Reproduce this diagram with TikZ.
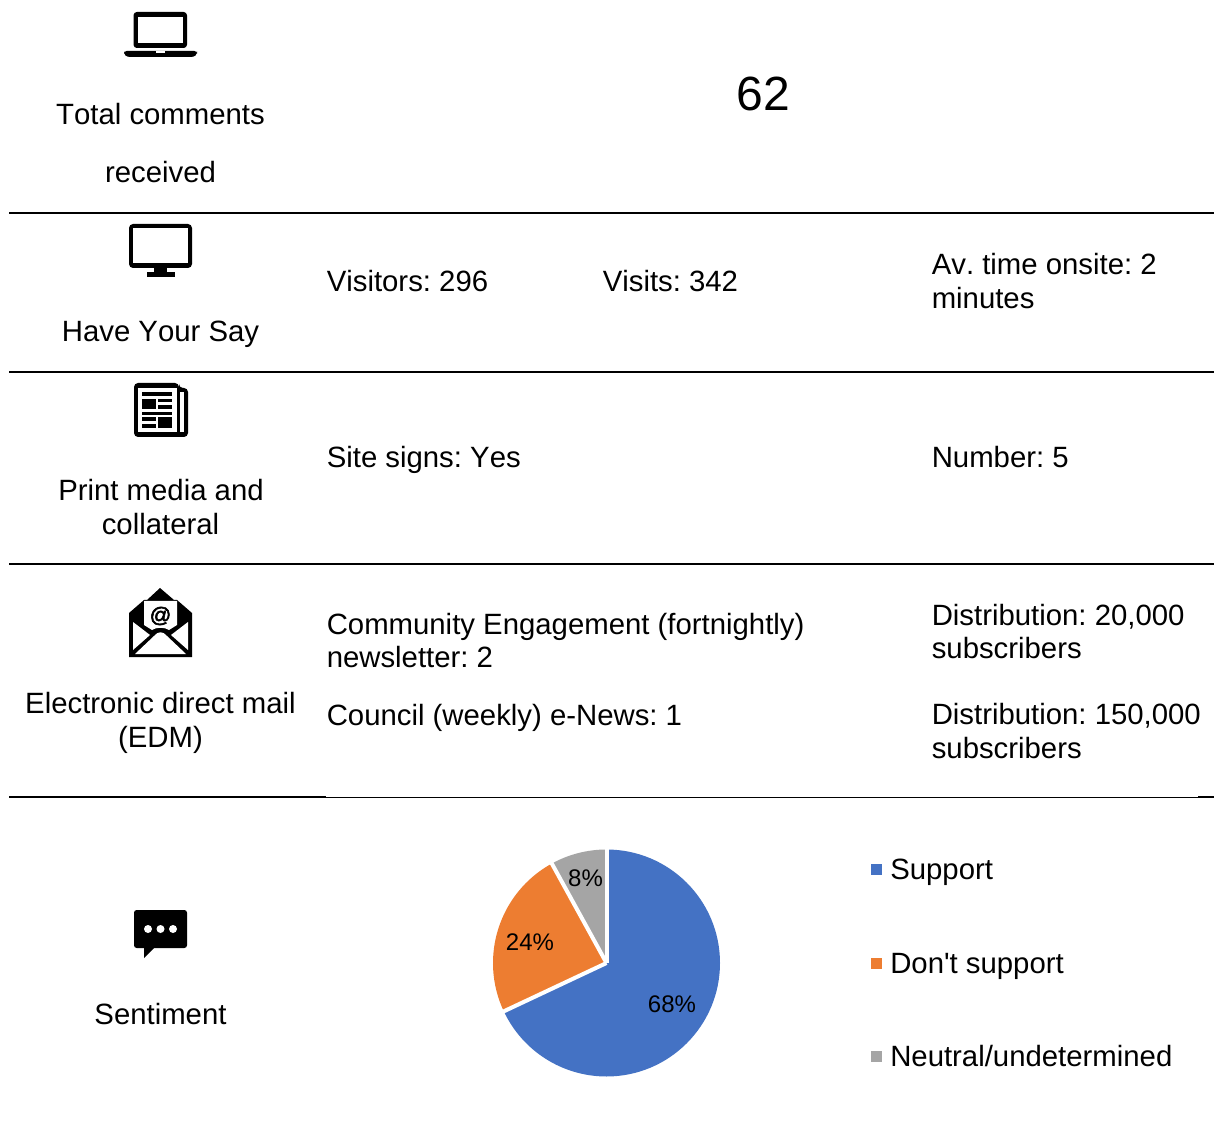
\documentclass[tikz,border=0pt]{standalone}
\usepackage{fontspec}
\setmainfont{Liberation Sans}[Ligatures=TeXOff,Kerning=Off]
\newfontfamily\atfont{Liberation Sans}[FakeBold=2.5]
\frenchspacing
\definecolor{pieblue}{HTML}{4472C4}
\definecolor{pieorange}{HTML}{ED7D31}
\definecolor{piegray}{HTML}{A5A5A5}
\tikzset{
  body/.style={inner sep=0pt,anchor=base west,font=\fontsize{22}{25}\selectfont},
  mid/.style={inner sep=0pt,anchor=base,font=\fontsize{22}{25}\selectfont},
  big/.style={inner sep=0pt,anchor=base,font=\fontsize{36}{40}\selectfont},
  pct/.style={inner sep=0pt,anchor=center,font=\fontsize{18}{20}\selectfont},
  rulethick/.style={line width=1.5pt,black},
  rulethin/.style={line width=0.75pt,black},
  slicegap/.style={draw=white,line width=3pt,line cap=butt}
}
\begin{document}
\begin{tikzpicture}[x=0.75pt,y=-0.75pt]
\useasboundingbox (0,0) rectangle (1214,1144);
\fill[white] (0,0) rectangle (1214,1144);
% rules
\draw[rulethick] (9,213) -- (1214,213);
\draw[rulethick] (9,372) -- (1214,372);
\draw[rulethick] (9,564) -- (1214,564);
\draw[rulethick] (9,797) -- (326,797);
\draw[rulethin] (326,797) -- (1198,797);
\draw[rulethick] (1198,797) -- (1214,797);
% laptop
\fill[rounded corners=2.5] (133.5,12) rectangle (187,48);
\fill[white] (138,17) rectangle (183,43);
\fill[rounded corners=2] (124,51) -- (197,51) -- (197,54) -- (194,57) -- (127,57) -- (124,54) -- cycle;
\fill[white] (156,51) rectangle (165,53);
% monitor
\fill[rounded corners=3] (129,224) rectangle (192,268);
\fill[white] (133,228) rectangle (188,263);
\fill (154,268) rectangle (167,272);
\fill (147,272) rectangle (175,277);
% newspaper
\fill[rounded corners=3] (134,383) -- (179,383) -- (179,388) -- (188,388) -- (188,437) -- (134,437) -- cycle;
\fill[white] (138,388) rectangle (177,432);
\fill[white] (180,392) rectangle (183.5,432);
\fill (142,392) rectangle (172,396);
\fill (142,399) rectangle (156,409);
\fill (158,399) rectangle (172,402);
\fill (158,405) rectangle (172,409);
\fill (142,412) rectangle (172,415);
\fill (142,417) rectangle (156,421);
\fill (142,424) rectangle (156,428);
\fill (158,417) rectangle (172,428);
% envelope
\fill (160,588) -- (174,600) -- (177,600) -- (192,613) -- (192,657) -- (129,657) -- (129,613) -- (144,600) -- (147,600) -- cycle;
\fill[white] (144,601) -- (177,601) -- (177,625) -- (169,630) .. controls (165,627) and (156,627) .. (152,630) -- (144,625) -- cycle;
\fill[white] (133,622) -- (150,635) -- (133,650) -- cycle;
\fill[white] (188,622) -- (171,635) -- (188,650) -- cycle;
\fill[white] (135,654) -- (154,636) .. controls (158,631) and (163,631) .. (167,636) -- (186,654) -- cycle;
\node[inner sep=0pt,font=\fontsize{16}{18}\selectfont\atfont] (at) at (160.5,616) {@};
% bubble
\fill[rounded corners=2] (134,910) rectangle (187,948);
\fill (144,947) -- (144,958) -- (155,947) -- cycle;
\fill[white] (148,929) circle (4);
\fill[white] (160.5,929) circle (4);
\fill[white] (173,929) circle (4);
% left labels
\node[mid] (l1a) at (160.5,125) {Total comments};
\node[mid] (l1b) at (160.5,183) {received};
\node[mid] (l2) at (160.5,342) {Have Your Say};
\node[mid] (l3a) at (161,501) {Print media and};
\node[mid] (l3b) at (160.5,535) {collateral};
\node[mid] (l4a) at (160.5,713) {Electronic direct mail};
\node[mid] (l4b) at (160.5,747) {(EDM)};
\node[mid] (l5) at (160.5,1024) {Sentiment};
% content
\node[big] (n62) at (763,111) {62};
\node[body] (vis) at (326.5,292) {Visitors: 296};
\node[body] (vst) at (602.5,292) {Visits: 342};
\node[body] (av1) at (931.5,275) {Av. time onsite: 2};
\node[body] (av2) at (931.5,309) {minutes};
\node[body] (ss) at (326.5,468) {Site signs: Yes};
\node[body] (num) at (931.5,468) {Number: 5};
\node[body] (ce1) at (326.5,634) {Community Engagement (fortnightly)};
\node[body] (ce2) at (326.5,667) {newsletter: 2};
\node[body] (cn) at (326.5,725) {Council (weekly) e-News: 1};
\node[body] (d1a) at (931.5,625) {Distribution: 20,000};
\node[body] (d1b) at (931.5,658) {subscribers};
\node[body] (d2a) at (931.5,724) {Distribution: 150,000};
\node[body] (d2b) at (931.5,758) {subscribers};
% pie
\begin{scope}[shift={(606.5,963)}]
\fill[pieblue] (0,0) -- (-90:113.5) arc[start angle=-90,delta angle=244.8,radius=113.5] -- cycle;
\fill[pieorange] (0,0) -- (154.8:113.5) arc[start angle=154.8,delta angle=86.4,radius=113.5] -- cycle;
\fill[piegray] (0,0) -- (241.2:113.5) arc[start angle=241.2,delta angle=28.8,radius=113.5] -- cycle;
\draw[slicegap] (0,0) -- (-90:116);
\draw[slicegap] (0,0) -- (154.8:116);
\draw[slicegap] (0,0) -- (241.2:116);
\end{scope}
\node[pct] (p68) at (672,1004) {68\%};
\node[pct] (p24) at (530,942) {24\%};
\node[pct] (p8) at (585.5,878) {8\%};
% legend
\fill[pieblue] (871,864) rectangle (881.5,875);
\fill[pieorange] (871,958) rectangle (881.5,969);
\fill[piegray] (871,1051) rectangle (881.5,1062);
\node[body] (lg1) at (890,879) {Support};
\node[body] (lg2) at (890,973) {Don't support};
\node[body] (lg3) at (890,1066) {Neutral/undetermined};
\end{tikzpicture}
\end{document}
